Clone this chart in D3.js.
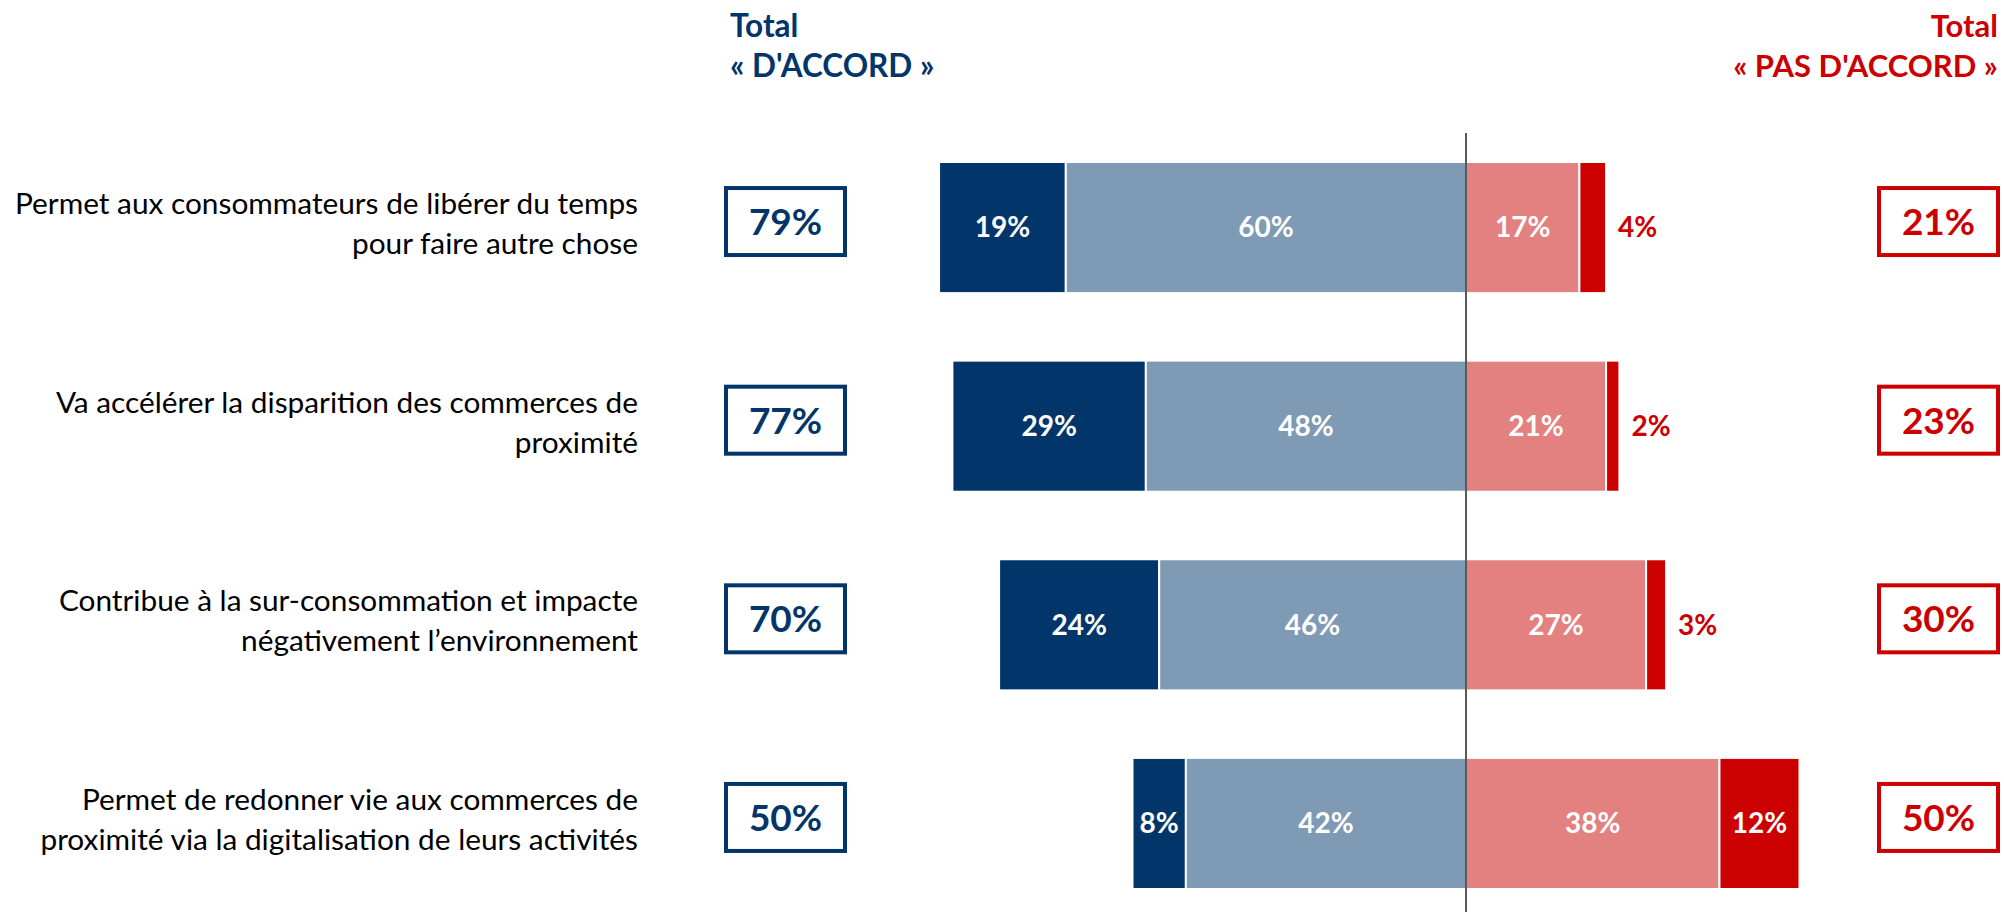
<!DOCTYPE html>
<html>
<head>
<meta charset="utf-8">
<script src="https://cdn.jsdelivr.net/npm/d3@7"></script>
<style>
  body { margin: 0; background: #fff; }
  svg { display: block; font-family: Lato, "Open Sans", sans-serif; }
</style>
</head>
<body>
<div class="chart"></div>
<script>
// statements (two lines each)
const categories = [
  "Permet aux consommateurs de libérer du temps\npour faire autre chose",
  "Va accélérer la disparition des commerces de\nproximité",
  "Contribue à la sur-consommation et impacte\nnégativement l’environnement",
  "Permet de redonner vie aux commerces de\nproximité via la digitalisation de leurs activités"
];
const toutAFait = [19, 29, 24, 8];      // tout à fait d'accord
const plutotAccord = [60, 48, 46, 42];  // plutôt d'accord
const plutotPas = [17, 21, 27, 38];     // plutôt pas d'accord
const pasDuTout = [4, 2, 3, 12];        // pas du tout d'accord
const totalAccord = [79, 77, 70, 50];
const totalPasAccord = [21, 23, 30, 50];

const width = 2004, height = 912;
const navy = '#02356a', steel = '#7f9ab4', pink = '#e38080', red = '#cc0000';

const svg = d3.select('.chart')
    .append('svg')
    .attr('width', width)
    .attr('height', height);

const x = d3.scaleLinear()
    .domain([-80, 80])
    .range([932.4, 1999.6]);

const y = d3.scaleBand()
    .domain(categories)
    .range([162, 889])
    .paddingInner(0.34)
    .paddingOuter(0);

// build stacked segments, left of zero for agree, right for disagree
const rows = categories.map((c, i) => ({
  cat: c,
  segs: [
    {x0: -(toutAFait[i] + plutotAccord[i]), x1: -plutotAccord[i], v: toutAFait[i], fill: navy, outside: false},
    {x0: -plutotAccord[i], x1: 0, v: plutotAccord[i], fill: steel, outside: false},
    {x0: 0, x1: plutotPas[i], v: plutotPas[i], fill: pink, outside: false},
    {x0: plutotPas[i], x1: plutotPas[i] + pasDuTout[i], v: pasDuTout[i], fill: red, outside: pasDuTout[i] < 6}
  ]
}));

const row = svg.selectAll('g.row')
    .data(rows)
    .enter()
    .append('g')
    .attr('class', 'row')
    .attr('transform', d => 'translate(0,' + y(d.cat) + ')');

row.selectAll('rect')
    .data(d => d.segs)
    .enter()
    .append('rect')
    .attr('x', d => x(d.x0))
    .attr('y', 0)
    .attr('width', d => x(d.x1) - x(d.x0))
    .attr('height', y.bandwidth())
    .attr('fill', d => d.fill)
    .attr('stroke', '#fff')
    .attr('stroke-width', 2);

row.selectAll('text.val')
    .data(d => d.segs)
    .enter()
    .append('text')
    .attr('class', 'val')
    .attr('x', d => d.outside ? x(d.x1) + 12 : (x(d.x0) + x(d.x1)) / 2)
    .attr('y', y.bandwidth() / 2)
    .attr('dy', '0.35em')
    .attr('text-anchor', d => d.outside ? 'start' : 'middle')
    .attr('fill', d => d.outside ? red : '#fff')
    .attr('font-weight', 700)
    .attr('font-size', 28)
    .text(d => d.v + '%');

// centre line
svg.append('line')
    .attr('x1', x(0)).attr('x2', x(0))
    .attr('y1', 133).attr('y2', height)
    .attr('stroke', '#595959')
    .attr('stroke-width', 2);

// statement labels
const lab = row.append('text')
    .attr('text-anchor', 'end')
    .attr('font-size', 29.8)
    .attr('fill', '#000');
lab.selectAll('tspan')
    .data(d => d.cat.split('\n'))
    .enter()
    .append('tspan')
    .attr('x', 638)
    .attr('y', (d, i) => y.bandwidth() / 2 - 4 + (i - 0.5) * 40)
    .attr('dy', '0.35em')
    .text(d => d);

// total boxes
function totalBox(values, left, color) {
  const g = row.append('g')
      .attr('transform', d => 'translate(' + left + ',' + (y.bandwidth() / 2 - 6) + ')');
  g.append('rect')
      .attr('x', 2).attr('y', -33.5)
      .attr('width', 119).attr('height', 67)
      .attr('fill', '#fff')
      .attr('stroke', color)
      .attr('stroke-width', 4);
  g.append('text')
      .attr('x', 61.5)
      .attr('y', 0)
      .attr('dy', '0.36em')
      .attr('text-anchor', 'middle')
      .attr('fill', color)
      .attr('font-weight', 700)
      .attr('font-size', 37)
      .text((d, i) => values[i] + '%');
}
totalBox(totalAccord, 724, navy);
totalBox(totalPasAccord, 1877, red);

// column headers
const hl = svg.append('text')
    .attr('fill', navy)
    .attr('font-weight', 700)
    .attr('font-size', 31.5);
hl.append('tspan').attr('x', 730).attr('y', 37).text('Total');
hl.append('tspan').attr('x', 730).attr('y', 77).text('« D\'ACCORD »');

const hr = svg.append('text')
    .attr('fill', red)
    .attr('font-weight', 700)
    .attr('font-size', 31)
    .attr('text-anchor', 'end');
hr.append('tspan').attr('x', 1998).attr('y', 37).text('Total');
hr.append('tspan').attr('x', 1998).attr('y', 77).text('« PAS D\'ACCORD »');
</script>
</body>
</html>
